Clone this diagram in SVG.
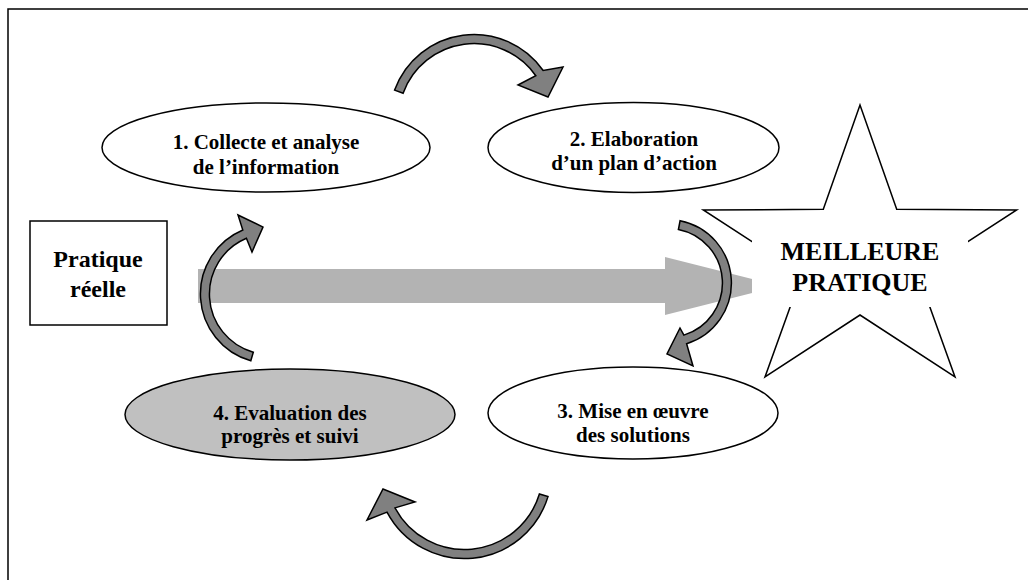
<svg xmlns="http://www.w3.org/2000/svg" width="1028" height="580" viewBox="0 0 1028 580">
<style>
.ln{stroke:#000;stroke-width:1.5;}
.ell{fill:#fff;stroke:#000;stroke-width:1.5;}
.t{font-family:"Liberation Serif","Times New Roman",serif;font-weight:bold;fill:#000;text-anchor:middle;}
.t21{font-size:21px;}
.t24{font-size:24px;}
.t26{font-size:26px;}
.carr{fill:#808080;stroke:#000;stroke-width:1.5;stroke-linejoin:miter;}
</style>
<rect x="0" y="0" width="1028" height="580" fill="#fff"/>
<rect id="frame" x="8" y="9" width="1040" height="600" fill="none" stroke="#000" stroke-width="1.5"/>

<g id="node-pratique">
<rect x="30" y="221" width="137" height="104" fill="#fff" class="ln"/>
<text class="t t24" x="98" y="267">Pratique</text>
<text class="t t24" x="98" y="297">réelle</text>
</g>

<g id="node-1">
<ellipse class="ell" cx="266" cy="147.5" rx="164" ry="44.5"/>
<text class="t t21" x="266" y="149">1. Collecte et analyse</text>
<text class="t t21" x="266" y="174">de l’information</text>
</g>

<g id="node-2">
<ellipse class="ell" cx="633.5" cy="147.5" rx="145.5" ry="45"/>
<text class="t t21" x="634" y="146">2. Elaboration</text>
<text class="t t21" x="634" y="170">d’un plan d’action</text>
</g>

<g id="node-3">
<ellipse class="ell" cx="633" cy="413" rx="145" ry="46"/>
<text class="t t21" x="633" y="418">3. Mise en œuvre</text>
<text class="t t21" x="633" y="442">des solutions</text>
</g>

<g id="node-4">
<ellipse cx="290" cy="414.5" rx="165" ry="45.5" fill="#c0c0c0" stroke="#000" stroke-width="1.5"/>
<text class="t t21" x="290" y="420">4. Evaluation des</text>
<text class="t t21" x="290" y="443">progrès et suivi</text>
</g>

<g id="node-star">
<polygon points="860,105 823.3,209.3 703.3,210 802,274 765,377 860,315 955,377 918,274 1016.7,210 896.7,209.3" fill="#fff" class="ln"/>
</g>

<g id="connectors">
<polygon id="main-arrow" points="198,269 665,269 665,257 780,286 665,315 665,303 198,303" fill="#b3b3b3"/>
<path id="arc-1-2" class="carr" d="M394.6,90.1 A84.5,84.5 0 0 1 543.2,70.5 L563,67 L548,97 L518,85 L535.8,75.7 A75.5,75.5 0 0 0 403.1,93.2 Z"/>
<path id="arc-2-3" class="carr" d="M680.1,220.7 A63.5,63.5 0 0 1 686.6,343.7 L693,366 L667,354 L680,328 L683.9,335.1 A54.5,54.5 0 0 0 678.4,229.5 Z"/>
<path id="arc-3-4" class="carr" d="M548,496.6 A87.5,87.5 0 0 1 387,512.1 L367,520 L383,489 L415,502 L395,507.9 A78.5,78.5 0 0 0 539.4,494 Z"/>
<path id="arc-4-1" class="carr" d="M250.8,360.8 A69.5,69.5 0 0 1 242.8,230 L238,215 L263,227 L252,252 L246.4,238.3 A60.5,60.5 0 0 0 253.3,352.2 Z"/>
</g>

<g id="node-best">
<rect x="752" y="226" width="216" height="81" fill="#fff"/>
<text class="t t26" x="860" y="260">MEILLEURE</text>
<text class="t t26" x="860" y="291">PRATIQUE</text>
</g>
</svg>
